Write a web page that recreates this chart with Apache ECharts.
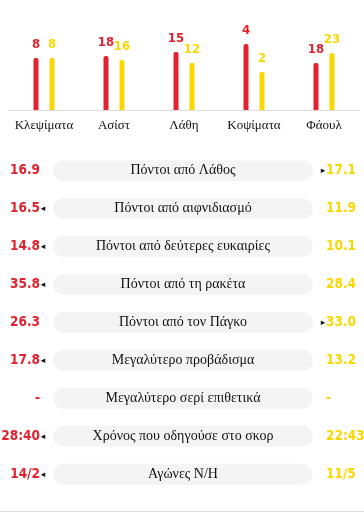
<!DOCTYPE html>
<html><head><meta charset="utf-8">
<script src="https://cdn.jsdelivr.net/npm/echarts@6/dist/echarts.min.js"></script>
<style>html,body{margin:0;padding:0;background:#fff}#c{width:364px;height:517px}</style>
</head><body><div id="c"></div>
<script>
// ---- top bar section ----
const barCategories = ['Κλεψίματα', 'Ασίστ', 'Λάθη', 'Κοψίματα', 'Φάουλ'];
const homeValues = [8, 18, 15, 4, 18];          // labels (red team)
const awayValues = [8, 16, 12, 2, 23];          // labels (yellow team)
const homeBarLength = [52, 54, 58, 66, 47];     // relative bar length as drawn
const awayBarLength = [52, 50, 47, 38, 57];

// ---- stats table ----
const statNames = ['Πόντοι από Λάθος', 'Πόντοι από αιφνιδιασμό', 'Πόντοι από δεύτερες ευκαιρίες',
  'Πόντοι από τη ρακέτα', 'Πόντοι από τον Πάγκο', 'Μεγαλύτερο προβάδισμα',
  'Μεγαλύτερο σερί επιθετικά', 'Χρόνος που οδηγούσε στο σκορ', 'Αγώνες Ν/Η'];
const homeStats = ['16.9', '16.5', '14.8', '35.8', '26.3', '17.8', '-', '28:40', '14/2'];
const awayStats = ['17.1', '11.9', '10.1', '28.4', '33.0', '13.2', '-', '22:43', '11/5'];
const leader = ['away', 'home', 'home', 'home', 'away', 'home', 'none', 'home', 'home'];

const RED = '#e0232e', YELLOW = '#f8d800';
const numFont = "'DejaVu Sans Condensed', 'Roboto Condensed', 'Liberation Sans Narrow', 'Liberation Sans', sans-serif";
const serif = 'Liberation Serif';

const chart = echarts.init(document.getElementById('c'));
const rowIdx = statNames.map((_, i) => i);

const triStyle = { fontFamily: 'DejaVu Sans', fontSize: 9, color: '#111', width: 6, align: 'center', verticalAlign: 'middle' };

chart.setOption({
  animation: false,
  grid: [
    { left: 9, right: 5, top: 10, height: 100, outerBoundsMode: 'none', containLabel: false },
    { left: 53, right: 51, top: 151.7, height: 341.6, outerBoundsMode: 'none', containLabel: false }
  ],
  xAxis: [
    { type: 'category', gridIndex: 0, data: barCategories,
      axisLine: { lineStyle: { color: '#dddddd', width: 1 } }, axisTick: { show: false },
      axisLabel: { interval: 0, fontFamily: serif, fontSize: 13, color: '#111', margin: 9 } },
    { type: 'value', gridIndex: 1, min: 0, max: 1, show: false }
  ],
  yAxis: [
    { type: 'value', gridIndex: 0, min: 0, max: 100, show: false },
    { type: 'category', gridIndex: 1, data: rowIdx, inverse: true, position: 'left',
      axisLine: { show: false }, axisTick: { show: false }, splitLine: { show: false },
      axisLabel: { margin: 7,
        formatter: (v) => { const i = +v; return '{v|' + homeStats[i] + '}' + (leader[i] === 'home' ? '{t|◂}' : '{e|}'); },
        rich: {
          v: { fontFamily: numFont, fontWeight: 'bold', fontSize: 13.5, color: RED, verticalAlign: 'middle' },
          t: triStyle,
          e: { width: 6 }
        } } },
    { type: 'category', gridIndex: 1, data: rowIdx, inverse: true, position: 'right',
      axisLine: { show: false }, axisTick: { show: false }, splitLine: { show: false },
      axisLabel: { margin: 7, align: 'left',
        formatter: (v) => { const i = +v; return (leader[i] === 'away' ? '{t|▸}' : '{e|}') + '{v|' + awayStats[i] + '}'; },
        rich: {
          v: { fontFamily: numFont, fontWeight: 'bold', fontSize: 13.5, color: YELLOW, verticalAlign: 'middle' },
          t: triStyle,
          e: { width: 6 }
        } } }
  ],
  series: [
    { type: 'bar', xAxisIndex: 0, yAxisIndex: 0, data: homeBarLength, barWidth: 5, barGap: '220%',
      itemStyle: { color: RED, borderRadius: [2, 2, 0, 0] },
      label: { show: true, position: 'top', distance: 7, formatter: (p) => homeValues[p.dataIndex],
        fontFamily: numFont, fontWeight: 'bold', fontSize: 13, color: RED } },
    { type: 'bar', xAxisIndex: 0, yAxisIndex: 0, data: awayBarLength, barWidth: 5, barGap: '220%',
      itemStyle: { color: YELLOW, borderRadius: [2, 2, 0, 0] },
      label: { show: true, position: 'top', distance: 7, formatter: (p) => awayValues[p.dataIndex],
        fontFamily: numFont, fontWeight: 'bold', fontSize: 13, color: YELLOW } },
    { type: 'bar', xAxisIndex: 1, yAxisIndex: 1, data: statNames.map(() => 1), barWidth: 21,
      itemStyle: { color: '#f4f4f4', borderRadius: 10.5 },
      label: { show: true, position: 'inside', formatter: (p) => statNames[p.dataIndex],
        fontFamily: serif, fontSize: 14, color: '#111' } }
  ],
  graphic: [
    { type: 'rect', left: 0, top: 511, shape: { width: 364, height: 1 }, style: { fill: '#dddddd' } }
  ]
});
</script></body></html>
